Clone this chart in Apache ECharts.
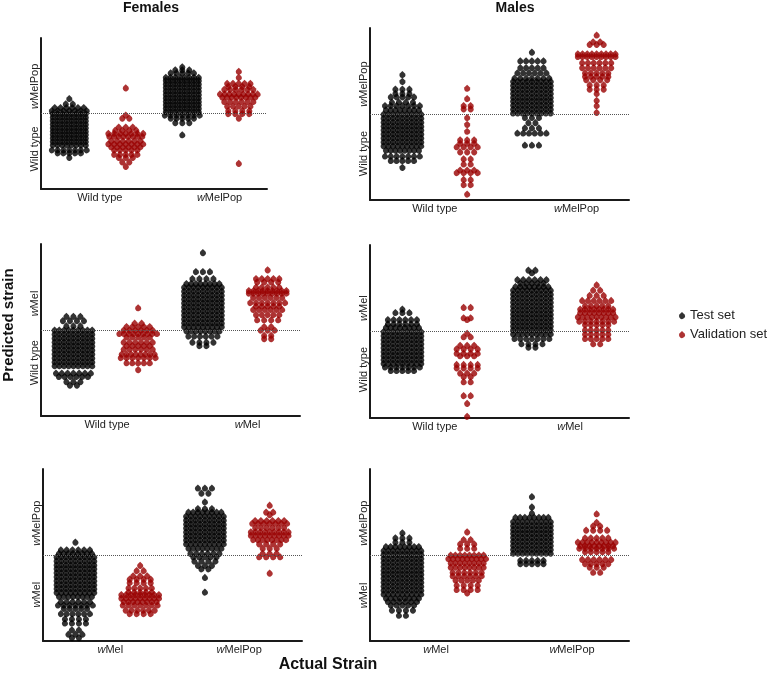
<!DOCTYPE html>
<html>
<head>
<meta charset="utf-8">
<script src="https://cdn.jsdelivr.net/npm/echarts@6/dist/echarts.min.js"></script>
<style>
  html, body { margin: 0; padding: 0; background: #fff; }
  #chart { width: 782px; height: 674px; }
</style>
</head>
<body>
<div id="chart"></div>
<script>
// each swarm: rows of [predicted value, number of points at that level]
// Females, Wild type vs wMelPop
const fPopTest_wt = [[0.60,1],[0.565,2],[0.54,6],[0.52,7],[0.50,8],[0.477,8],[0.454,8],[0.431,8],[0.408,8],[0.385,8],[0.362,8],[0.339,8],[0.316,8],[0.293,8],[0.26,7],[0.24,5],[0.21,1]];
const fPopVal_wt = [[0.67,1],[0.49,1],[0.47,2],[0.41,3],[0.39,4],[0.37,7],[0.35,8],[0.32,6],[0.30,7],[0.28,6],[0.26,5],[0.23,5],[0.21,3],[0.18,2],[0.15,1]];
const fPopTest_pop = [[0.81,1],[0.79,3],[0.77,5],[0.74,8],[0.72,8],[0.697,8],[0.674,8],[0.651,8],[0.628,8],[0.605,8],[0.582,8],[0.559,8],[0.536,8],[0.513,8],[0.49,7],[0.47,5],[0.44,3],[0.36,1]];
const fPopVal_pop = [[0.78,1],[0.74,1],[0.70,5],[0.68,4],[0.66,6],[0.63,9],[0.61,8],[0.58,6],[0.55,5],[0.52,4],[0.50,4],[0.47,1],[0.17,1]];
// Males, Wild type vs wMelPop
const mPopTest_wt = [[0.73,1],[0.69,1],[0.645,3],[0.62,3],[0.60,5],[0.57,4],[0.55,7],[0.525,8],[0.50,9],[0.477,9],[0.454,9],[0.431,9],[0.408,9],[0.385,9],[0.362,9],[0.339,9],[0.316,9],[0.29,8],[0.256,7],[0.23,5],[0.19,1]];
const mPopVal_wt = [[0.65,1],[0.59,1],[0.55,2],[0.53,2],[0.48,1],[0.44,1],[0.40,1],[0.35,3],[0.33,3],[0.31,4],[0.28,3],[0.24,2],[0.21,2],[0.175,3],[0.16,4],[0.12,2],[0.09,2],[0.035,1]];
const mPopTest_pop = [[0.86,1],[0.81,5],[0.77,5],[0.74,6],[0.71,7],[0.69,9],[0.667,9],[0.644,9],[0.621,9],[0.598,9],[0.575,9],[0.552,9],[0.529,9],[0.506,9],[0.48,3],[0.45,2],[0.42,3],[0.39,6],[0.32,3]];
const mPopVal_pop = [[0.96,1],[0.92,2],[0.905,3],[0.85,9],[0.835,9],[0.80,6],[0.77,6],[0.74,5],[0.72,5],[0.70,4],[0.67,3],[0.645,3],[0.62,1],[0.58,1],[0.55,1],[0.51,1]];
// Females, Wild type vs wMel
const fMelTest_wt = [[0.58,3],[0.555,4],[0.525,3],[0.50,9],[0.477,9],[0.454,9],[0.431,9],[0.408,9],[0.385,9],[0.362,9],[0.339,9],[0.316,9],[0.293,9],[0.25,7],[0.23,6],[0.20,3],[0.18,2]];
const fMelVal_wt = [[0.63,1],[0.54,2],[0.52,5],[0.50,6],[0.48,9],[0.46,5],[0.43,6],[0.41,5],[0.39,6],[0.36,8],[0.34,7],[0.31,5],[0.27,1]];
const fMelTest_mel = [[0.95,1],[0.84,3],[0.80,4],[0.77,8],[0.75,9],[0.727,9],[0.704,9],[0.681,9],[0.658,9],[0.635,9],[0.612,9],[0.589,9],[0.566,9],[0.543,9],[0.52,9],[0.495,8],[0.465,6],[0.43,4],[0.41,2]];
const fMelVal_mel = [[0.85,1],[0.80,5],[0.78,4],[0.75,5],[0.73,9],[0.715,9],[0.69,6],[0.66,7],[0.64,5],[0.62,6],[0.59,5],[0.56,4],[0.52,2],[0.50,3],[0.47,2],[0.45,2]];
// Males, Wild type vs wMel
const mMelTest_wt = [[0.63,1],[0.61,3],[0.57,6],[0.545,6],[0.525,8],[0.50,9],[0.477,9],[0.454,9],[0.431,9],[0.408,9],[0.385,9],[0.362,9],[0.339,9],[0.316,9],[0.295,7],[0.275,5]];
const mMelVal_wt = [[0.64,2],[0.58,2],[0.57,1],[0.49,1],[0.47,2],[0.42,3],[0.40,4],[0.375,4],[0.36,3],[0.31,4],[0.29,4],[0.26,3],[0.24,2],[0.21,2],[0.13,2],[0.085,1],[0.01,1]];
const mMelTest_mel = [[0.855,2],[0.84,1],[0.80,6],[0.78,5],[0.76,8],[0.74,9],[0.717,9],[0.694,9],[0.671,9],[0.648,9],[0.625,9],[0.602,9],[0.579,9],[0.556,9],[0.533,9],[0.51,9],[0.487,9],[0.46,7],[0.43,4],[0.41,2]];
const mMelVal_mel = [[0.77,1],[0.74,2],[0.71,3],[0.68,6],[0.65,5],[0.63,8],[0.61,8],[0.585,9],[0.56,7],[0.54,5],[0.51,5],[0.485,5],[0.46,5],[0.43,2]];
// Females, wMel vs wMelPop
const fMPTest_mel = [[0.575,1],[0.53,6],[0.51,8],[0.49,9],[0.467,9],[0.444,9],[0.421,9],[0.398,9],[0.375,9],[0.352,9],[0.329,9],[0.306,9],[0.283,9],[0.26,8],[0.23,6],[0.21,7],[0.19,5],[0.16,6],[0.13,4],[0.105,4],[0.065,2],[0.04,3],[0.02,2]];
const fMPVal_mel = [[0.44,1],[0.41,2],[0.38,3],[0.36,4],[0.34,4],[0.31,5],[0.285,5],[0.27,9],[0.25,9],[0.23,8],[0.21,7],[0.18,6],[0.16,4]];
const fMPTest_pop = [[0.89,3],[0.86,2],[0.81,1],[0.77,3],[0.75,8],[0.727,9],[0.704,9],[0.681,9],[0.658,9],[0.635,9],[0.612,9],[0.589,9],[0.566,9],[0.54,8],[0.51,6],[0.49,5],[0.465,4],[0.44,3],[0.42,2],[0.37,1],[0.285,1]];
const fMPVal_pop = [[0.79,1],[0.75,2],[0.735,1],[0.70,6],[0.685,7],[0.66,6],[0.635,9],[0.615,9],[0.59,8],[0.565,4],[0.54,3],[0.51,3],[0.49,4],[0.395,1]];
// Males, wMel vs wMelPop
const mMPTest_mel = [[0.63,1],[0.60,3],[0.575,3],[0.55,8],[0.527,9],[0.504,9],[0.481,9],[0.458,9],[0.435,9],[0.412,9],[0.389,9],[0.366,9],[0.343,9],[0.32,9],[0.297,9],[0.274,9],[0.25,8],[0.23,6],[0.21,5],[0.18,4],[0.15,2]];
const mMPVal_mel = [[0.635,1],[0.59,2],[0.565,3],[0.54,3],[0.50,8],[0.48,9],[0.455,8],[0.43,8],[0.40,6],[0.38,6],[0.355,5],[0.325,4],[0.30,4],[0.28,1]];
const mMPTest_pop = [[0.84,1],[0.78,1],[0.745,1],[0.72,8],[0.695,9],[0.672,9],[0.649,9],[0.626,9],[0.603,9],[0.58,9],[0.557,9],[0.534,9],[0.511,9],[0.47,5],[0.45,5]];
const mMPVal_pop = [[0.74,1],[0.69,1],[0.67,2],[0.645,4],[0.60,5],[0.575,9],[0.555,8],[0.54,7],[0.52,5],[0.475,6],[0.45,5],[0.43,3],[0.40,2]];

const labelsPop = ['Wild type', 'wMelPop'];
const labelsMel = ['Wild type', 'wMel'];
const labelsMP = ['wMel', 'wMelPop'];
// where the category labels sit, per panel (x: 0-4 scale, y: 0-1 scale)
const xLabelPos = [[1.04, 3.16], [1.0, 3.19], [1.02, 3.19], [1.0, 3.09], [1.04, 3.03], [1.02, 3.12]];
const yLabelPos = [[0.265, 0.68], [0.27, 0.674], [0.31, 0.654], [0.28, 0.635], [0.27, 0.685], [0.265, 0.685]];
const seriesNames = ['Test set', 'Validation set'];

const FONT = "'Liberation Sans', Arial, sans-serif";
const TEST_COLOR = '#000000';
const VAL_COLOR = '#990000';
const DOT = 'path://M5,0 L8.9,3.8 A4.5,4.5 0 1 1 1.1,3.8 Z';

const panels = [
  { box: { left: 41, top: 38, width: 226, height: 151 }, labels: labelsPop, test: [fPopTest_wt, fPopTest_pop], val: [fPopVal_wt, fPopVal_pop] },
  { box: { left: 370, top: 28, width: 259, height: 172 }, labels: labelsPop, test: [mPopTest_wt, mPopTest_pop], val: [mPopVal_wt, mPopVal_pop] },
  { box: { left: 41, top: 244, width: 259, height: 172 }, labels: labelsMel, test: [fMelTest_wt, fMelTest_mel], val: [fMelVal_wt, fMelVal_mel] },
  { box: { left: 370, top: 245, width: 259, height: 173 }, labels: labelsMel, test: [mMelTest_wt, mMelTest_mel], val: [mMelVal_wt, mMelVal_mel] },
  { box: { left: 43, top: 469, width: 259, height: 172 }, labels: labelsMP, test: [fMPTest_mel, fMPTest_pop], val: [fMPVal_mel, fMPVal_pop] },
  { box: { left: 370, top: 469, width: 259, height: 172 }, labels: labelsMP, test: [mMPTest_mel, mMPTest_pop], val: [mMPVal_mel, mMPVal_pop] }
];

// centred beeswarm: the points of one row sit side by side around the group centre
function swarm(rows, center, pxX) {
  const out = [];
  rows.forEach(([v, n]) => {
    const gap = n >= 8 ? 4.7 : (n >= 5 ? 5.8 : 7); // px between neighbours
    for (let k = 0; k < n; k++) {
      out.push([center + (k - (n - 1) / 2) * gap / pxX, v]);
    }
  });
  return out;
}

const rich = { it: { fontStyle: 'italic', fontSize: 11, color: '#222', fontFamily: FONT } };
const fmtLabel = t => t.startsWith('wMel') ? '{it|w}' + t.slice(1) : t;

const grids = [], xAxes = [], yAxes = [], series = [];
panels.forEach((p, i) => {
  grids.push(p.box);
  const pxX = p.box.width / 4;
  const xl = xLabelPos[i], yl = yLabelPos[i];
  xAxes.push({
    gridIndex: i, type: 'value', min: 0, max: 4,
    splitLine: { show: false }, axisTick: { show: false },
    axisLine: { show: true, onZero: false, lineStyle: { color: '#1a1a1a', width: 2 } },
    axisLabel: {
      customValues: xl, margin: 3, fontSize: 11, color: '#222', fontFamily: FONT, rich: rich,
      formatter: v => fmtLabel(v < 2 ? p.labels[0] : p.labels[1])
    }
  });
  yAxes.push({
    gridIndex: i, type: 'value', min: 0, max: 1,
    splitLine: { show: false }, axisTick: { show: false },
    axisLine: { show: true, onZero: false, lineStyle: { color: '#1a1a1a', width: 2 } },
    axisLabel: {
      customValues: yl, rotate: 90, margin: 1, fontSize: 11, color: '#222', fontFamily: FONT, rich: rich,
      formatter: v => fmtLabel(v < 0.5 ? p.labels[0] : p.labels[1])
    }
  });
  series.push({
    name: seriesNames[0], type: 'scatter', xAxisIndex: i, yAxisIndex: i,
    symbol: DOT, symbolSize: [6, 7], itemStyle: { color: TEST_COLOR },
    data: swarm(p.test[0], 0.5, pxX).concat(swarm(p.test[1], 2.5, pxX)),
    markLine: {
      silent: true, symbol: ['none', 'none'], label: { show: false },
      lineStyle: { type: 'dotted', color: '#555', width: 1 },
      data: [{ yAxis: 0.5 }]
    }
  });
  series.push({
    name: seriesNames[1], type: 'scatter', xAxisIndex: i, yAxisIndex: i,
    symbol: DOT, symbolSize: [6, 7], itemStyle: { color: VAL_COLOR },
    data: swarm(p.val[0], 1.5, pxX).concat(swarm(p.val[1], 3.5, pxX))
  });
});

const chart = echarts.init(document.getElementById('chart'), null, { renderer: 'canvas' });
chart.setOption({
  animation: false,
  backgroundColor: '#fff',
  textStyle: { fontFamily: FONT },
  grid: grids,
  xAxis: xAxes,
  yAxis: yAxes,
  series: series,
  legend: {
    data: seriesNames.map(n => ({ name: n, icon: DOT })),
    orient: 'vertical', left: 674, top: 304,
    itemWidth: 6, itemHeight: 7, itemGap: 6, itemTextGap: 15,
    textStyle: { fontSize: 13, color: '#222', fontFamily: FONT }
  },
  graphic: [
    { type: 'text', x: 151, y: 8, style: { text: 'Females', font: "bold 14px " + FONT, fill: '#111', textAlign: 'center', textVerticalAlign: 'middle' } },
    { type: 'text', x: 515, y: 8, style: { text: 'Males', font: "bold 14px " + FONT, fill: '#111', textAlign: 'center', textVerticalAlign: 'middle' } },
    { type: 'text', x: 9, y: 325, rotation: Math.PI / 2, style: { text: 'Predicted strain', font: "bold 15px " + FONT, fill: '#111', textAlign: 'center', textVerticalAlign: 'middle' } },
    { type: 'text', x: 328, y: 665, style: { text: 'Actual Strain', font: "bold 16px " + FONT, fill: '#111', textAlign: 'center', textVerticalAlign: 'middle' } }
  ]
});
window.addEventListener('resize', () => chart.resize());
</script>
</body>
</html>
